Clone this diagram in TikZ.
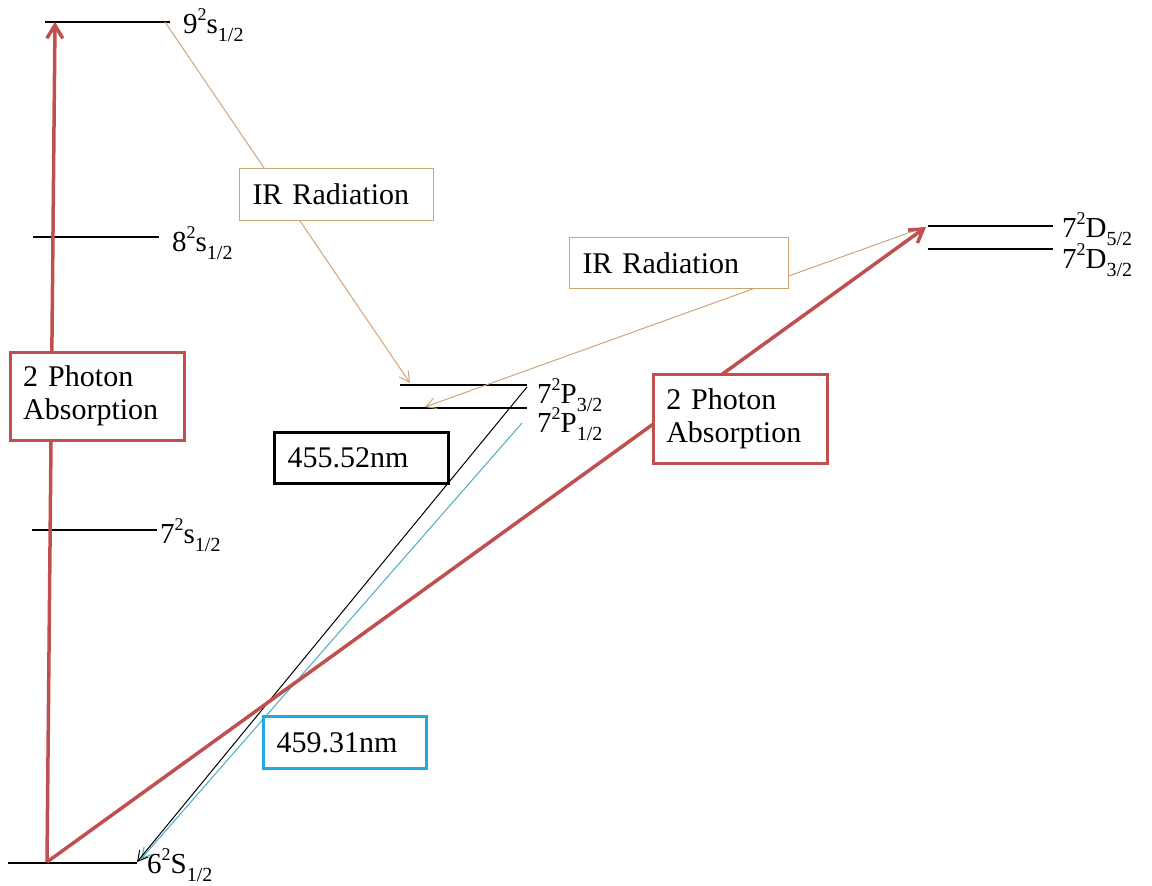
\documentclass[tikz,border=0pt]{standalone}
\usepackage{fontspec}
\setmainfont{Liberation Serif}
\usetikzlibrary{arrows.meta}
\definecolor{pptred}{RGB}{192,80,77}
\definecolor{irtan}{RGB}{205,165,120}
\definecolor{lineblue}{RGB}{75,172,198}
\definecolor{boxblue}{RGB}{30,170,225}
\newcommand{\upidx}[1]{\raisebox{0.42em}{\fontsize{18}{18}\selectfont #1}}
\newcommand{\loidx}[1]{\raisebox{-0.28em}{\fontsize{20}{20}\selectfont #1}}
\tikzset{
  stateline/.style={line width=1.6pt},
  statelbl/.style={anchor=base west, inner sep=0pt, font=\fontsize{29}{31}\selectfont},
  notebox/.style={anchor=north west, fill=white, align=left, inner xsep=13pt,
    inner ysep=0pt, font=\fontsize{30}{33}\selectfont},
  redarr/.style={draw=pptred, line width=3.5pt, -{Straight Barb[length=13pt,width=16pt]}},
  thinarr/.style={line width=1pt, -{Straight Barb[length=10pt,width=11pt]}}
}

\begin{document}
\begin{tikzpicture}[x=1pt, y=-1pt]
    \useasboundingbox (0,0) rectangle (1152,886);
    % energy levels
    \coordinate (s9a) at (45,22); \coordinate (s9b) at (170,22);
    \coordinate (s8a) at (33,237); \coordinate (s8b) at (159,237);
    \coordinate (s7a) at (32,530); \coordinate (s7b) at (157,530);
    \coordinate (s6a) at (8,863); \coordinate (s6b) at (137,863);
    \coordinate (p3a) at (400,385); \coordinate (p3b) at (527,385);
    \coordinate (p1a) at (400,408); \coordinate (p1b) at (527,408);
    \coordinate (d5a) at (928,226); \coordinate (d5b) at (1053,226);
    \coordinate (d3a) at (928,249); \coordinate (d3b) at (1053,249);
    \foreach \a/\b in {s9a/s9b,s8a/s8b,s7a/s7b,s6a/s6b,p3a/p3b,p1a/p1b,d5a/d5b,d3a/d3b}
      \draw [stateline] (\a) -- (\b);
    \node [statelbl] (l9) at (183,33) {9\upidx{2}s\loidx{1/2}};
    \node [statelbl] (l8) at (172,251) {8\upidx{2}s\loidx{1/2}};
    \node [statelbl] (l7) at (160,543) {7\upidx{2}s\loidx{1/2}};
    \node [statelbl] (l6) at (147,873) {6\upidx{2}S\loidx{1/2}};
    \node [statelbl] (lp3) at (537,403) {7\upidx{2}P\loidx{3/2}};
    \node [statelbl] (lp1) at (537,432) {7\upidx{2}P\loidx{1/2}};
    \node [statelbl] (ld5) at (1062,237) {7\upidx{2}D\loidx{5/2}};
    \node [statelbl] (ld3) at (1062,268) {7\upidx{2}D\loidx{3/2}};
    % transitions
    \coordinate (foot) at (47,862); \coordinate (top9) at (55,22);
    \coordinate (topd) at (926,227);
    \coordinate (ir1a) at (165,22); \coordinate (ir1b) at (410,383);
    \coordinate (ir2a) at (922,228); \coordinate (ir2b) at (425,407);
    \coordinate (bla) at (527,387); \coordinate (blb) at (137,862);
    \coordinate (bua) at (522,423); \coordinate (bub) at (141,859);
    \draw [thinarr, draw=irtan] (ir1a) -- (ir1b);
    \draw [thinarr, draw=irtan] (ir2a) -- (ir2b);
    \draw [thinarr, draw=lineblue] (bua) -- (bub);
    \draw [thinarr] (bla) -- (blb);
    \draw [redarr] (foot) -- (top9);
    \draw [redarr] (foot) -- (topd);
    % labels in boxes
    \node [notebox, draw=pptred, line width=2.5pt, text width=148pt,
      minimum height=88pt] (tpa1) at (9,351) {2 Photon\\Absorption};
    \node [notebox, draw=pptred, line width=2.5pt, text width=148pt,
      minimum height=89pt] (tpa2) at (652,373) {2 Photon\\Absorption};
    \node [notebox, draw=irtan, line width=1pt, text width=168pt,
      minimum height=52pt] (ir1) at (239,168) {IR Radiation};
    \node [notebox, draw=irtan, line width=1pt, text width=193pt,
      minimum height=51pt] (ir2) at (569,237) {IR Radiation};
    \node [notebox, draw=black, line width=3pt, text width=148pt,
      minimum height=51pt] (nm455) at (273,431) {455.52nm};
    \node [notebox, draw=boxblue, line width=3pt, text width=137pt,
      minimum height=52pt] (nm459) at (262,715) {459.31nm};
  \end{tikzpicture}
\end{document}
